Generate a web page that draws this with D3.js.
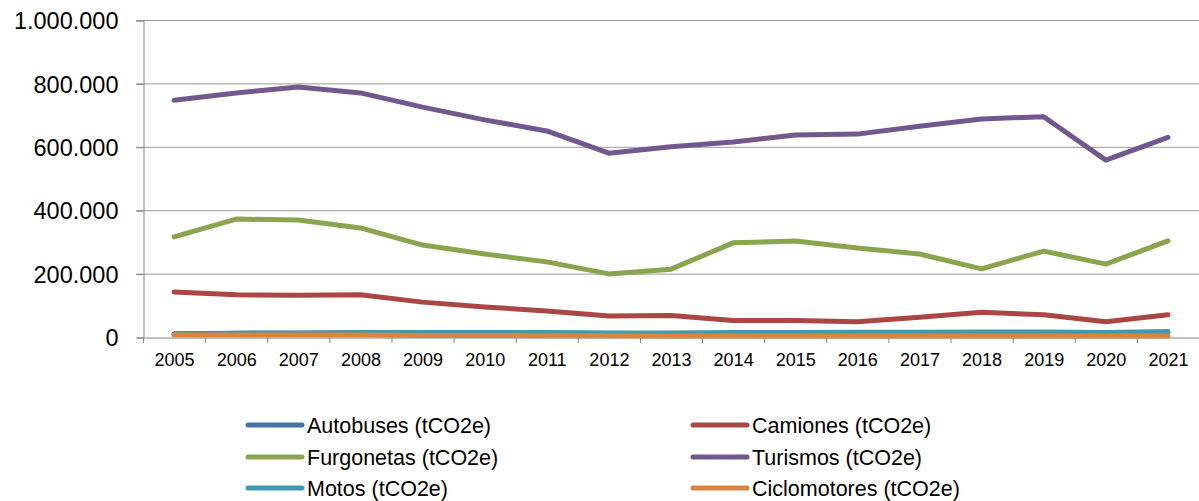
<!DOCTYPE html>
<html><head><meta charset="utf-8">
<script src="https://cdn.jsdelivr.net/npm/d3@7"></script>
<style>body{margin:0;background:#fff}svg{display:block}</style>
</head><body>
<svg id="c" width="1199" height="501"></svg>
<script>
const years = ["2005","2006","2007","2008","2009","2010","2011","2012","2013","2014","2015","2016","2017","2018","2019","2020","2021"];
const autobuses = [10000,12000,12000,13000,12000,12000,12000,11000,10000,11000,11000,12000,12000,12000,12000,10000,13000];
const camiones = [142000,133000,132000,133000,110000,95000,82000,66000,68000,52000,52000,48000,62000,78000,70000,48000,70000];
const furgonetas = [316000,372000,369000,344000,290000,262000,237000,199000,214000,297000,303000,281000,262000,215000,271000,230000,303000];
const turismos = [747000,770000,789000,770000,725000,685000,650000,580000,600000,615000,637000,640000,665000,688000,695000,558000,630000];
const motos = [8000,12000,13000,14000,14000,14000,14000,13000,13000,14000,14000,15000,15000,16000,16000,14000,17000];
const ciclomotores = [6000,6000,6000,6000,5000,5000,4000,4000,3000,3000,3000,3000,3000,3000,3000,3000,3000];
const yTicks = [0,200000,400000,600000,800000,1000000];
const yTickLabels = ["0","200.000","400.000","600.000","800.000","1.000.000"];
const seriesNames = ["Autobuses (tCO2e)","Camiones (tCO2e)","Furgonetas (tCO2e)","Turismos (tCO2e)","Motos (tCO2e)","Ciclomotores (tCO2e)"];
const seriesData = [autobuses,camiones,furgonetas,turismos,motos,ciclomotores];
const colors = ["#4572A7","#AA4643","#89A54E","#71588F","#4198AF","#DB843D"];

const svg = d3.select("#c");
const L = 143, R = 1199, T = 20, B = 337;
const x = d3.scaleBand().domain(years).range([L, R]);
const y = d3.scaleLinear().domain([0, 1000000]).range([B, T]);
const font = "'Liberation Sans', Arial, sans-serif";

// gridlines
svg.append("g").selectAll("line").data(yTicks.slice(1)).join("line")
  .attr("x1", L - 7).attr("x2", R).attr("y1", d => y(d) + 0.5).attr("y2", d => y(d) + 0.5)
  .attr("stroke", "#9a9a9a").attr("stroke-width", 1);

// y axis
const yAxis = d3.axisLeft(y).tickValues(yTicks).tickSize(7).tickPadding(18)
  .tickFormat((d, i) => yTickLabels[i]);
const gy = svg.append("g").attr("transform", `translate(${L + 0.5},0.5)`).call(yAxis);
gy.select(".domain").attr("stroke", "#868686");
gy.selectAll(".tick line").attr("stroke", "#868686");
gy.selectAll("text").attr("font-family", font).attr("font-size", 23.5).attr("fill", "#000").attr("dy", "0.35em");

// x axis
const gx = svg.append("g").attr("transform", `translate(0.5,${B + 0.5})`)
  .call(d3.axisBottom(x).tickSize(0).tickPadding(16));
gx.select(".domain").attr("stroke", "#868686");
gx.selectAll("text").attr("font-family", font).attr("font-size", 18).attr("fill", "#000");
svg.append("g").selectAll("line").data(d3.range(years.length + 1)).join("line")
  .attr("x1", i => L + i * x.step() + 0.5).attr("x2", i => L + i * x.step() + 0.5)
  .attr("y1", B).attr("y2", B + 6).attr("stroke", "#868686");

// lines
const line = d3.line().x((d, i) => x(years[i]) + x.bandwidth() / 2).y(d => y(d));
svg.append("g").selectAll("path").data(seriesData).join("path")
  .attr("d", d => line(d)).attr("fill", "none")
  .attr("stroke", (d, i) => colors[i]).attr("stroke-width", 5)
  .attr("stroke-linejoin", "round").attr("stroke-linecap", "round");

// legend
const cols = [248, 693], rows = [425, 457, 488];
const lg = svg.append("g").selectAll("g").data(seriesNames).join("g")
  .attr("transform", (d, i) => `translate(${cols[i % 2]},${rows[Math.floor(i / 2)]})`);
lg.append("line").attr("x1", 0).attr("x2", 54).attr("y1", 0).attr("y2", 0)
  .attr("stroke", (d, i) => colors[i]).attr("stroke-width", 5).attr("stroke-linecap", "round");
lg.append("text").attr("x", 59).attr("dy", "0.35em").text(d => d)
  .attr("font-family", font).attr("font-size", 21.5).attr("fill", "#000");
</script>
</body></html>
